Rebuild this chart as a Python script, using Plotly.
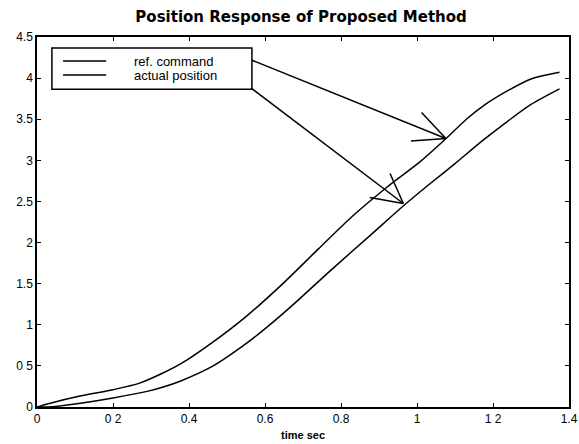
import plotly.graph_objects as go

# ---- data ----
t_ref = [0, 0.03, 0.11, 0.2, 0.27, 0.33, 0.38, 0.46, 0.55, 0.64, 0.74, 0.83, 0.92, 1.01, 1.08, 1.13, 1.18, 1.24, 1.30, 1.375]
y_ref = [0, 0.04, 0.13, 0.21, 0.29, 0.41, 0.53, 0.78, 1.10, 1.47, 1.92, 2.32, 2.67, 2.99, 3.28, 3.50, 3.68, 3.85, 3.99, 4.07]

t_act = [0, 0.03, 0.09, 0.2, 0.29, 0.33, 0.38, 0.46, 0.55, 0.61, 0.68, 0.77, 0.88, 0.96, 1.03, 1.10, 1.17, 1.24, 1.30, 1.375]
y_act = [0, 0, 0.03, 0.11, 0.19, 0.24, 0.32, 0.49, 0.77, 0.99, 1.27, 1.65, 2.10, 2.43, 2.70, 2.96, 3.23, 3.48, 3.68, 3.87]

series_names = ["ref. command", "actual position"]

x_tickvals = [0, 0.2, 0.4, 0.6, 0.8, 1.0, 1.2, 1.4]
x_ticktext = ["0", "0 2", "0.4", "0.6", "0.8", "1", "1 2", "1.4"]
y_tickvals = [0, 0.5, 1, 1.5, 2, 2.5, 3, 3.5, 4, 4.5]
y_ticktext = ["0", "0 5", "1", "1.5", "2", "2.5", "3", "3.5", "4", "4.5"]

# arrow annotations (data coords): tail, tip, head end A, head end B
arrow_ref = [(0.534, 4.277), (1.076, 3.265), (1.012, 3.581), (0.984, 3.236)]
arrow_act = [(0.516, 4.046), (0.964, 2.475), (0.929, 2.840), (0.876, 2.548)]

fig = go.Figure()
for tx, ty, nm in ((t_ref, y_ref, series_names[0]), (t_act, y_act, series_names[1])):
    fig.add_trace(go.Scatter(x=tx, y=ty, mode="lines", name=nm, showlegend=False,
                             line=dict(color="black", width=1.5, shape="spline", smoothing=0.8)))

shapes = []
for arr in (arrow_ref, arrow_act):
    tail, tip, ha, hb = arr
    for p in (tail, ha, hb):
        shapes.append(dict(type="line", xref="x", yref="y", x0=p[0], y0=p[1], x1=tip[0], y1=tip[1],
                           line=dict(color="black", width=1.5)))

font_main = "Liberation Sans, Arial, sans-serif"

# hand-drawn legend box (paper coords)
shapes.append(dict(type="rect", xref="paper", yref="paper", x0=0.028, x1=0.404, y0=0.859, y1=0.970,
                   line=dict(color="black", width=1.5), fillcolor="white", layer="above"))
annotations = []
for i, nm in enumerate(series_names):
    yy = [0.935, 0.897][i]
    shapes.append(dict(type="line", xref="paper", yref="paper", x0=0.049, x1=0.130, y0=yy, y1=yy,
                       line=dict(color="black", width=1.5), layer="above"))
    annotations.append(dict(xref="paper", yref="paper", x=0.178, y=yy, xanchor="left", yanchor="middle",
                            text=nm, showarrow=False,
                            font=dict(family=font_main, size=13, color="black")))

fig.update_layout(
    width=579, height=444,
    margin=dict(l=37, r=10, t=37, b=37, autoexpand=False),
    paper_bgcolor="white", plot_bgcolor="white",
    title=dict(text="<b>Position Response of Proposed Method</b>", x=0.52, xanchor="center",
               y=0.963, yanchor="middle",
               font=dict(family="DejaVu Sans", size=15, color="black")),
    showlegend=False,
    shapes=shapes,
    annotations=annotations,
    xaxis=dict(range=[0, 1.4], tickvals=x_tickvals, ticktext=x_ticktext, automargin=False,
               ticks="inside", ticklen=4, tickcolor="black", tickwidth=1,
               showline=True, linecolor="black", linewidth=1.5, mirror="ticks",
               showgrid=False, zeroline=False,
               tickfont=dict(family=font_main, size=12, color="black"),
               title=dict(text="<b>time sec</b>", standoff=6,
                          font=dict(family=font_main, size=11, color="black"))),
    yaxis=dict(range=[0, 4.5], tickvals=y_tickvals, ticktext=y_ticktext, automargin=False,
               ticks="inside", ticklen=4, tickcolor="black", tickwidth=1,
               showline=True, linecolor="black", linewidth=1.5, mirror="ticks",
               showgrid=False, zeroline=False,
               tickfont=dict(family=font_main, size=12, color="black")),
)

fig.write_html("out.html", config={"displayModeBar": False},
               post_script="document.body.style.margin='0';")
